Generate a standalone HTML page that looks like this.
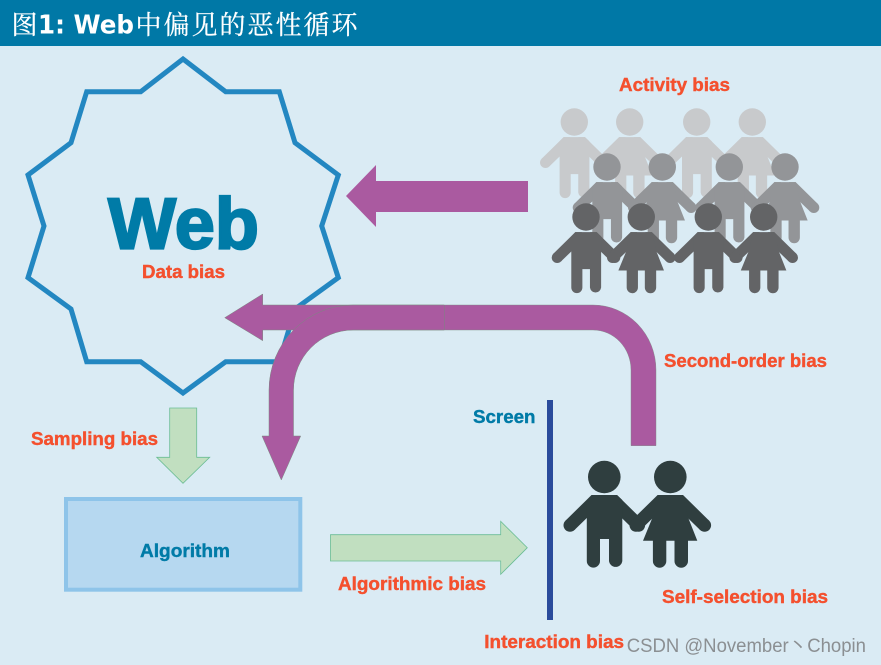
<!DOCTYPE html>
<html><head><meta charset="utf-8"><title>Web bias</title>
<style>
html,body{margin:0;padding:0;background:#daebf4}
svg{display:block}
text{font-family:"Liberation Sans","Noto Sans CJK SC",sans-serif;font-weight:bold}
.r{fill:#f4502e;font-size:18px;stroke:#f4502e;stroke-width:.4}
.b{fill:#007ba7;font-size:18px;stroke:#007ba7;stroke-width:.4}
.h{fill:#fff;stroke:#fff;stroke-width:.25;font-size:26px;font-weight:normal;font-family:"Noto Serif CJK SC",serif}
</style></head><body>
<svg width="881" height="665" viewBox="0 0 881 665" xmlns="http://www.w3.org/2000/svg">
<defs>
<g id="arms">
<path d="M-12.700,18L-38.900,43.700L-29.700,52.900L-17.500,41H-5V18ZM12.700,18L38.900,43.700L29.700,52.900L17.500,41H5V18Z"/>
<circle cx="-34.300" cy="48.300" r="6.500"/>
<circle cx="34.300" cy="48.300" r="6.500"/>
</g>
<g id="boy">
<circle cx="0" cy="0" r="16.300"/>
<use href="#arms"/>
<path d="M-12.700,18H12.700L18,23V84a6.700,6.700 0 0 1 -13.300,0V62H-4.300V84a6.600,6.600 0 0 1 -13.200,0V23Z"/>
</g>
<g id="girl">
<circle cx="0" cy="0" r="16.300"/>
<use href="#arms"/>
<path d="M-12.700,18H12.700L18,41L27,63.700H17.700V84a6.700,6.700 0 0 1 -13.500,0V63.700H-4V84a6.700,6.700 0 0 1 -13.400,0V63.700H-27.300L-18,41Z"/>
</g>
</defs>
<rect width="881" height="665" fill="#daebf4"/>
<rect width="881" height="46" fill="#0078a6"/>
<text class="h" x="11.500" y="34">图</text>
<text x="38" y="33.500" fill="#fff" style="font-family:'DejaVu Sans',sans-serif;font-size:26px" textLength="96" lengthAdjust="spacingAndGlyphs">1: Web</text>
<text class="h" x="135.500" y="34" textLength="222" lengthAdjust="spacing">中偏见的恶性循环</text>

<polygon points="183,59 225.7,91.7 279.3,91.7 295,142.7 338.3,175 321.7,226 338.3,277.7 295,309 279.3,361.7 225.7,361.7 183,393 140.7,361.7 86.7,361.7 71,309 28,277.7 44,226 28,175 71,142.7 86.7,91.7 140.7,91.7" fill="none" stroke="#2387c1" stroke-width="5"/>
<text x="108" y="248.500" fill="#007ba7" stroke="#007ba7" stroke-width="2.200" style="font-size:72px" textLength="151" lengthAdjust="spacingAndGlyphs">Web</text>
<text class="r" x="142" y="278" textLength="83" lengthAdjust="spacingAndGlyphs">Data bias</text>
<text class="r" x="619" y="91" textLength="111" lengthAdjust="spacingAndGlyphs">Activity bias</text>

<g fill="#c8cacc">
<use href="#boy" transform="translate(574.3,122) scale(.84)"/>
<use href="#girl" transform="translate(629.7,122) scale(.84)"/>
<use href="#boy" transform="translate(696.7,122) scale(.84)"/>
<use href="#girl" transform="translate(752.3,122) scale(.84)"/>
</g>
<g fill="#939598">
<use href="#boy" transform="translate(607,167) scale(.84)"/>
<use href="#girl" transform="translate(662.3,167) scale(.84)"/>
<use href="#boy" transform="translate(729.3,167) scale(.84)"/>
<use href="#girl" transform="translate(785,167) scale(.84)"/>
</g>
<g fill="#636466">
<use href="#boy" transform="translate(586,217) scale(.84)"/>
<use href="#girl" transform="translate(641.3,217) scale(.84)"/>
<use href="#boy" transform="translate(708.3,217) scale(.84)"/>
<use href="#girl" transform="translate(763.7,217) scale(.84)"/>
</g>
<g fill="#2f3e3f">
<use href="#boy" transform="translate(604.3,477)"/>
<use href="#girl" transform="translate(670.3,477)"/>
</g>

<polygon points="346,196 376,165 376,181 528,181 528,212 376,212 376,227" fill="#aa5aa0"/>
<polygon points="224.7,317.7 262.7,294 262.7,305 444.3,305 444.3,330 262.7,330 262.7,340.7" fill="#aa5aa0" stroke="#7a8a80" stroke-width=".5"/>
<path d="M444.3,305H353A84,85 0 0 0 269,390V436H262L281.3,480L300.7,436H293.500V390A60,60 0 0 1 353,330H444.3Z" fill="#aa5aa0" stroke="#7a8a80" stroke-width=".5"/>
<path d="M444.3,305H593A63,65 0 0 1 656,370V445.700H631V370A38,40 0 0 0 593,330H444.3Z" fill="#aa5aa0" stroke="#7a8a80" stroke-width=".4"/>

<polygon points="169.700,408 196.700,408 196.700,457.300 209.700,457.300 183,483.300 156.700,457.300 169.700,457.300" fill="#c1dfc0" stroke="#6bbd95" stroke-width=".8"/>
<polygon points="330.500,534.700 500.700,534.700 500.700,521.300 527.300,547.700 500.700,574.300 500.700,561 330.500,561" fill="#c1dfc0" stroke="#6bbd95" stroke-width=".8"/>
<rect x="66" y="499" width="234.300" height="90.700" fill="#b6d8f0" stroke="#8ec4e9" stroke-width="4"/>
<rect x="547" y="400" width="6" height="220" fill="#2a4b9b"/>

<text class="r" x="31" y="445" textLength="127" lengthAdjust="spacingAndGlyphs">Sampling bias</text>
<text class="b" x="140" y="557" textLength="90" lengthAdjust="spacingAndGlyphs">Algorithm</text>
<text class="r" x="338" y="590" textLength="148" lengthAdjust="spacingAndGlyphs">Algorithmic bias</text>
<text class="b" x="473" y="423" textLength="62.500" lengthAdjust="spacingAndGlyphs">Screen</text>
<text class="r" x="664" y="367" textLength="163" lengthAdjust="spacingAndGlyphs">Second-order bias</text>
<text class="r" x="662" y="603" textLength="166" lengthAdjust="spacingAndGlyphs">Self-selection bias</text>
<text class="r" x="484.300" y="648" textLength="139.700" lengthAdjust="spacingAndGlyphs">Interaction bias</text>
<text x="626.700" y="652" fill="#8b8f92" style="font-weight:normal;font-size:19px" textLength="239.300" lengthAdjust="spacingAndGlyphs">CSDN @November丶Chopin</text>
</svg>
</body></html>
